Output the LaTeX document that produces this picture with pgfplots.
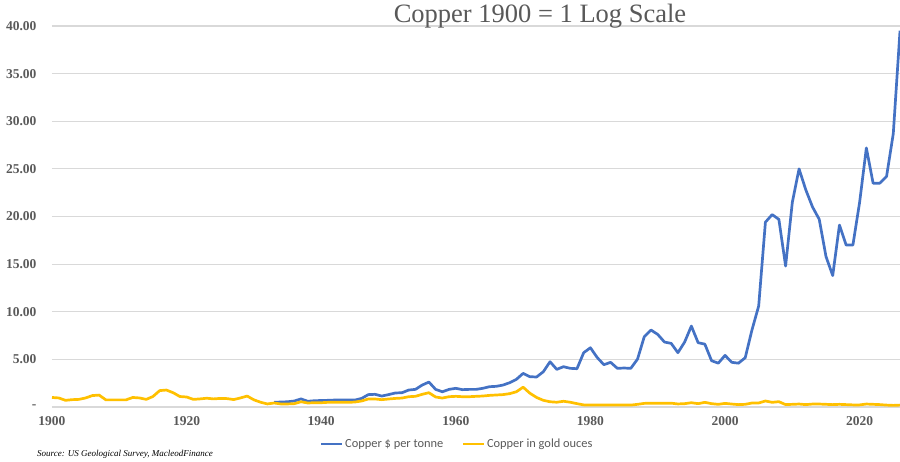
\documentclass[border=0pt]{standalone}
\usepackage{pgfplots}
\pgfplotsset{compat=1.18}
\usepackage{pgfplotstable}
\usepackage{fontspec}
\setmainfont{Liberation Serif}
\newfontfamily\legendfont{Carlito}
\definecolor{cblue}{HTML}{4472C4}
\definecolor{cgold}{HTML}{FFC000}
\definecolor{tgray}{HTML}{595959}
\definecolor{ggray}{HTML}{D9D9D9}

\pgfplotstableread{
year val
1933 0.50
1934 0.52
1935 0.55
1936 0.63
1937 0.85
1938 0.60
1939 0.66
1940 0.68
1941 0.70
1942 0.73
1943 0.73
1944 0.73
1945 0.73
1946 0.90
1947 1.30
1948 1.33
1949 1.15
1950 1.30
1951 1.47
1952 1.50
1953 1.78
1954 1.85
1955 2.30
1956 2.62
1957 1.85
1958 1.60
1959 1.85
1960 1.96
1961 1.82
1962 1.85
1963 1.85
1964 1.96
1965 2.13
1966 2.17
1967 2.30
1968 2.55
1969 2.90
1970 3.53
1971 3.18
1972 3.15
1973 3.70
1974 4.75
1975 3.95
1976 4.23
1977 4.06
1978 4.02
1979 5.70
1980 6.22
1981 5.20
1982 4.44
1983 4.69
1984 4.06
1985 4.09
1986 4.06
1987 5.03
1988 7.38
1989 8.08
1990 7.62
1991 6.82
1992 6.68
1993 5.70
1994 6.82
1995 8.50
1996 6.75
1997 6.60
1998 4.86
1999 4.60
2000 5.42
2001 4.69
2002 4.60
2003 5.17
2004 8.08
2005 10.6
2006 19.4
2007 20.2
2008 19.7
2009 14.8
2010 21.5
2011 25.0
2012 22.8
2013 21.0
2014 19.7
2015 15.8
2016 13.8
2017 19.1
2018 17.0
2019 17.0
2020 21.5
2021 27.2
2022 23.5
2023 23.5
2024 24.2
2025 28.7
2026 39.5
}\copperusd

\pgfplotstableread{
year val
1900 1.00
1901 0.95
1902 0.70
1903 0.77
1904 0.80
1905 0.95
1906 1.20
1907 1.25
1908 0.75
1909 0.75
1910 0.75
1911 0.75
1912 1.00
1913 0.95
1914 0.80
1915 1.10
1916 1.72
1917 1.78
1918 1.50
1919 1.10
1920 1.05
1921 0.80
1922 0.85
1923 0.92
1924 0.85
1925 0.90
1926 0.88
1927 0.78
1928 0.95
1929 1.15
1930 0.75
1931 0.50
1932 0.32
1933 0.42
1934 0.32
1935 0.32
1936 0.35
1937 0.55
1938 0.42
1939 0.45
1940 0.45
1941 0.49
1942 0.49
1943 0.49
1944 0.49
1945 0.52
1946 0.63
1947 0.84
1948 0.84
1949 0.77
1950 0.84
1951 0.90
1952 0.94
1953 1.08
1954 1.12
1955 1.33
1956 1.50
1957 1.05
1958 0.94
1959 1.08
1960 1.12
1961 1.08
1962 1.08
1963 1.12
1964 1.15
1965 1.22
1966 1.26
1967 1.30
1968 1.40
1969 1.60
1970 2.08
1971 1.45
1972 1.00
1973 0.70
1974 0.55
1975 0.50
1976 0.60
1977 0.50
1978 0.35
1979 0.22
1980 0.20
1981 0.22
1982 0.20
1983 0.22
1984 0.22
1985 0.20
1986 0.20
1987 0.28
1988 0.38
1989 0.40
1990 0.40
1991 0.40
1992 0.40
1993 0.32
1994 0.35
1995 0.45
1996 0.35
1997 0.49
1998 0.35
1999 0.28
2000 0.38
2001 0.31
2002 0.25
2003 0.28
2004 0.42
2005 0.42
2006 0.63
2007 0.49
2008 0.56
2009 0.25
2010 0.28
2011 0.31
2012 0.25
2013 0.31
2014 0.31
2015 0.28
2016 0.25
2017 0.28
2018 0.25
2019 0.22
2020 0.22
2021 0.31
2022 0.28
2023 0.25
2024 0.20
2025 0.17
2026 0.20
}\coppergold

\begin{document}
\begin{tikzpicture}[x=1bp,y=1bp]
\path[use as bounding box] (-52,-55) rectangle (848,407);
\begin{axis}[
  at={(0,0)}, anchor=south west,
  scale only axis, width=848bp, height=381bp,
  xmin=1900, xmax=2026, ymin=0, ymax=40,
  axis line style={draw=none},
  major tick length=0pt,
  ymajorgrids, grid style={ggray, line width=1.2bp},
  xtick={1900,1920,1940,1960,1980,2000,2020},
  xticklabels={1900,1920,1940,1960,1980,2000,2020},
  ytick={0,5,10,15,20,25,30,35,40},
  yticklabels={{-\hspace{8bp}},5.00,10.00,15.00,20.00,25.00,30.00,35.00,40.00},
  tick label style={font=\fontsize{13.5bp}{16bp}\selectfont\bfseries, text=tgray},
  yticklabel style={xshift=-12bp},
  xticklabel style={yshift=-6bp},
  legend style={at={(0.4776,-0.097)}, anchor=center, draw=none, fill=none,
    font=\legendfont\fontsize{12.4bp}{15bp}\selectfont, text=tgray,
    /tikz/every even column/.append style={column sep=17bp},
    nodes={inner sep=1.5bp}},
  legend columns=2,
  legend image code/.code={\draw[#1] (0bp,0bp) -- (21bp,0bp);},
]
\addplot[cblue, line width=2.7bp, line join=round] table[x=year,y=val] {\copperusd};
\addlegendentry{Copper \$ per tonne}
\addplot[cgold, line width=2.7bp, line join=round] table[x=year,y=val] {\coppergold};
\addlegendentry{Copper in gold ouces}
\end{axis}
\node[font=\fontsize{26.5bp}{31bp}\selectfont, text=tgray, anchor=base] at (488,384) {Copper 1900 = 1 Log Scale};
\node[font=\fontsize{9bp}{11bp}\selectfont\itshape, text=black, anchor=west, inner sep=0pt] at (-15,-47) {Source: US Geological Survey, MacleodFinance};
\end{tikzpicture}
\end{document}
